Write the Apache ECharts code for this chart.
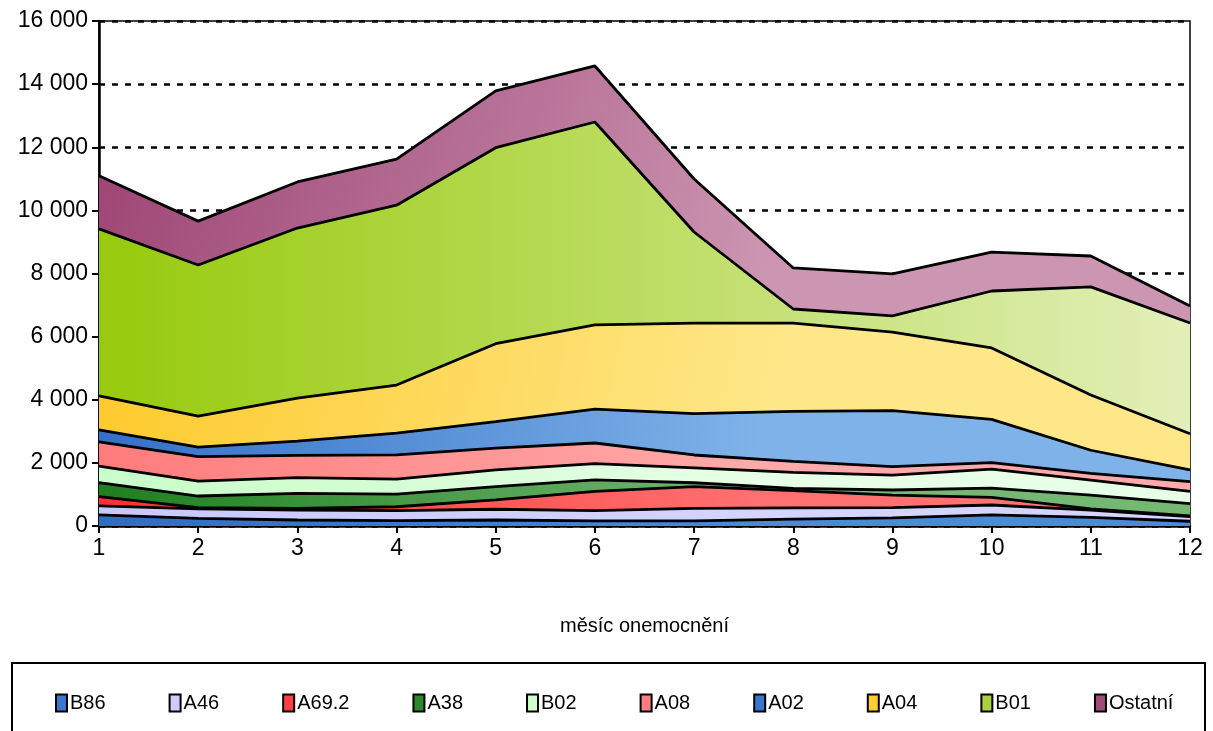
<!DOCTYPE html>
<html>
<head>
<meta charset="utf-8">
<script src="https://cdn.jsdelivr.net/npm/echarts@6/dist/echarts.min.js"></script>
<style>
  html, body { margin: 0; padding: 0; background: #fff; }
  #chart { width: 1213px; height: 731px; }
</style>
</head>
<body>
<div id="chart"></div>
<script>
// months of illness
var months = ['1', '2', '3', '4', '5', '6', '7', '8', '9', '10', '11', '12']

// values per diagnosis (stacked, bottom to top)
var b86 = [350, 240, 190, 170, 190, 160, 160, 220, 260, 350, 275, 150]
var a46 = [285, 300, 315, 315, 340, 330, 400, 355, 320, 315, 230, 150]
var a692 = [295, 40, 55, 125, 295, 610, 685, 545, 400, 245, 35, 20]
var a38 = [445, 370, 475, 400, 420, 360, 125, 70, 160, 290, 440, 390]
var b02 = [520, 470, 495, 475, 530, 515, 470, 510, 470, 600, 475, 390]
var a08 = [770, 780, 710, 770, 690, 655, 410, 350, 270, 210, 215, 305]
var a02 = [380, 300, 450, 690, 845, 1070, 1310, 1580, 1775, 1370, 730, 375]
var a04 = [1080, 985, 1365, 1520, 2465, 2670, 2870, 2800, 2490, 2260, 1750, 1145]
var b01 = [5290, 4785, 5385, 5700, 6210, 6430, 2885, 445, 510, 1805, 3425, 3505]
var ostatni = [1680, 1390, 1460, 1460, 1800, 1775, 1680, 1300, 1330, 1235, 980, 540]

var yTicks = [0, 2000, 4000, 6000, 8000, 10000, 12000, 14000, 16000]

var font = '"Liberation Sans", Arial, sans-serif'

function grad(c1, c2, horiz) {
  return new echarts.graphic.LinearGradient(0, 0, horiz ? 1 : 0.6, horiz ? 0 : 1, [
    { offset: 0, color: c1 },
    { offset: 1, color: c2 }
  ])
}

function layer(name, data, c1, c2, icon, horiz) {
  return {
    name: name,
    type: 'line',
    stack: 'total',
    data: data,
    symbol: 'none',
    lineStyle: { color: '#000', width: 2.8 },
    areaStyle: { color: grad(c1, c2, horiz), opacity: 1 },
    itemStyle: { color: icon, borderColor: '#000', borderWidth: 1.5 },
    emphasis: { disabled: true }
  }
}

var chart = echarts.init(document.getElementById('chart'))

chart.setOption({
  animation: false,
  grid: {
    left: 99,
    right: 23,
    top: 21,
    bottom: 205,
    show: true,
    borderColor: '#000',
    borderWidth: 1.5
  },
  legend: {
    left: 50,
    top: 688,
    icon: 'rect',
    itemWidth: 11,
    itemHeight: 17,
    itemGap: 63,
    textStyle: { fontFamily: font, fontSize: 20, color: '#000', padding: [0, 0, 0, -2] },
    data: ['B86', 'A46', 'A69.2', 'A38', 'B02', 'A08', 'A02', 'A04', 'B01', 'Ostatní']
  },
  graphic: [{
    type: 'rect',
    shape: { x: 12, y: 663, width: 1193, height: 90 },
    style: { fill: 'none', stroke: '#000', lineWidth: 2 }
  }],
  xAxis: {
    type: 'category',
    data: months,
    boundaryGap: false,
    name: 'měsíc onemocnění',
    nameLocation: 'middle',
    nameGap: 90,
    nameTextStyle: { fontFamily: font, fontSize: 20, color: '#000' },
    axisLine: { lineStyle: { color: '#000', width: 2.5 } },
    axisTick: { alignWithLabel: true, length: 7, lineStyle: { color: '#000', width: 2 } },
    axisLabel: { fontFamily: font, fontSize: 23, color: '#000', margin: 11 }
  },
  yAxis: {
    type: 'value',
    min: yTicks[0],
    max: yTicks[yTicks.length - 1],
    interval: 2000,
    axisLine: { show: true, lineStyle: { color: '#000', width: 2.5 } },
    axisTick: { show: true, length: 7, lineStyle: { color: '#000', width: 2 } },
    axisLabel: {
      fontFamily: font,
      fontSize: 23,
      color: '#000',
      margin: 11,
      formatter: function (v) {
        return String(v).replace(/\B(?=(\d{3})+(?!\d))/g, ' ')
      }
    },
    splitLine: { lineStyle: { color: '#000', width: 2.5, type: [6, 7] } }
  },
  series: [
    layer('B86', b86, '#2f6cc4', '#4c8ad8', '#3a76cc'),
    layer('A46', a46, '#c8c8fc', '#d4d4ff', '#ccccff'),
    layer('A69.2', a692, '#ff3030', '#ff7070', '#ff4040'),
    layer('A38', a38, '#1f7f1f', '#74b874', '#2e862e'),
    layer('B02', b02, '#c8fcc8', '#e6ffe6', '#ccffcc'),
    layer('A08', a08, '#ff7c7c', '#ffaaaa', '#ff8080'),
    layer('A02', a02, '#3470c8', '#7eb2e8', '#3a76cc'),
    layer('A04', a04, '#fdca2c', '#fee788', '#ffcc33'),
    layer('B01', b01, '#97ca0c', '#e2efb8', '#a8d040', true),
    layer('Ostatní', ostatni, '#9c4272', '#cc96b2', '#a04c78')
  ]
})
</script>
</body>
</html>
